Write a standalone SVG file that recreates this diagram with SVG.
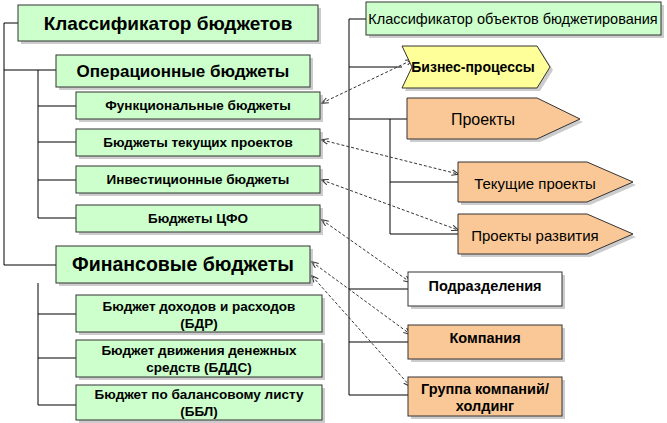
<svg xmlns="http://www.w3.org/2000/svg" width="667" height="423" viewBox="0 0 667 423">
<style>
.g{fill:#ccffcc;stroke:#333;stroke-width:1}
.o{fill:#fac896;stroke:#333;stroke-width:1}
.y{fill:#ffff99;stroke:#333;stroke-width:1}
.w{fill:#fff;stroke:#333;stroke-width:1}
.sh{fill:#999;opacity:.5}
.t{font-family:"Liberation Sans",Arial,sans-serif;text-anchor:middle;fill:#000}
.b{font-weight:bold}
.s{font-size:13.5px}
.r{font-size:14.5px}
.ln{stroke:#000;stroke-width:1;fill:none}
.da{stroke:#333;stroke-width:1;stroke-dasharray:3,2;fill:none;marker-start:url(#a);marker-end:url(#a)}
</style>
<defs><marker id="a" viewBox="0 0 10 10" refX="9" refY="5" markerWidth="7" markerHeight="7" orient="auto-start-reverse"><path d="M0,1 L10,5 L0,9" fill="none" stroke="#333" stroke-width="1.5"/></marker></defs>
<rect width="667" height="423" fill="#fff"/>
<g id="connectors">
<path class="ln" d="M4,23H18M4,23V265H56M4,70H56M38,70V218H76M38,106H76M38,142H76M38,180H76M38,283V405H76M38,314H76M38,358H76"/>
<path class="ln" d="M349,19H366M349,19V395H408M349,67H402M349,119H407M390,119V234H458M390,182H458M349,289H408M349,342H408"/>
<path class="da" d="M322,103L412,60"/>
<path class="da" d="M322,140L458,174"/>
<path class="da" d="M322,180L458,230"/>
<path class="da" d="M322,220L410,282"/>
<path class="da" d="M312,262L410,334"/>
<path class="da" d="M312,276L410,386"/>
</g>
<g id="n1"><rect class="sh" x="21" y="8" width="300" height="36"/><rect class="g" x="18" y="5" width="300" height="36"/><text class="t b" x="168" y="30" font-size="19">Классификатор бюджетов</text></g>
<g id="n2"><rect class="sh" x="59" y="58" width="254" height="32"/><rect class="g" x="56" y="55" width="254" height="32"/><text class="t b" x="183" y="77" font-size="17">Операционные бюджеты</text></g>
<g id="n3"><rect class="sh" x="79" y="95" width="244" height="27"/><rect class="g" x="76" y="92" width="244" height="27"/><text class="t b s" x="198" y="110">Функциональные бюджеты</text></g>
<g id="n4"><rect class="sh" x="79" y="132" width="244" height="27"/><rect class="g" x="76" y="129" width="244" height="27"/><text class="t b s" x="198" y="147">Бюджеты текущих проектов</text></g>
<g id="n5"><rect class="sh" x="79" y="169" width="244" height="27"/><rect class="g" x="76" y="166" width="244" height="27"/><text class="t b s" x="198" y="184">Инвестиционные бюджеты</text></g>
<g id="n6"><rect class="sh" x="79" y="208" width="244" height="27"/><rect class="g" x="76" y="205" width="244" height="27"/><text class="t b s" x="198" y="223">Бюджеты ЦФО</text></g>
<g id="n7"><rect class="sh" x="59" y="249" width="254" height="37"/><rect class="g" x="56" y="246" width="254" height="37"/><text class="t b" x="183" y="271" font-size="19.5">Финансовые бюджеты</text></g>
<g id="n8"><rect class="sh" x="79" y="298" width="246" height="37"/><rect class="g" x="76" y="295" width="246" height="37"/><text class="t b s" x="199" y="311">Бюджет доходов и расходов</text><text class="t b s" x="199" y="328">(БДР)</text></g>
<g id="n9"><rect class="sh" x="79" y="343" width="246" height="37"/><rect class="g" x="76" y="340" width="246" height="37"/><text class="t b s" x="199" y="355">Бюджет движения денежных</text><text class="t b s" x="199" y="372">средств (БДДС)</text></g>
<g id="n10"><rect class="sh" x="79" y="388" width="246" height="35"/><rect class="g" x="76" y="385" width="246" height="35"/><text class="t b s" x="199" y="399">Бюджет по балансовому листу</text><text class="t b s" x="199" y="416">(ББЛ)</text></g>
<g id="r1"><rect class="sh" x="369" y="5" width="295" height="33"/><rect class="g" x="366" y="2" width="295" height="33"/><text class="t" x="513" y="24" font-size="14.5">Классификатор объектов бюджетирования</text></g>
<g id="r2"><path class="sh" d="M405,49H540L553,70L540,91H405L415,70Z"/><path class="y" d="M402,46H537L550,67L537,88H402L412,67Z"/><text class="t b" x="473" y="72" font-size="14">Бизнес-процессы</text></g>
<g id="r3"><path class="sh" d="M410,101H540L583,122L540,142H410Z"/><path class="o" d="M407,98H537L580,119L537,139H407Z"/><text class="t" x="483" y="125" font-size="16">Проекты</text></g>
<g id="r4"><path class="sh" d="M461,165H590L636,185L590,205H461Z"/><path class="o" d="M458,162H587L633,182L587,202H458Z"/><text class="t" x="535" y="189" font-size="15">Текущие проекты</text></g>
<g id="r5"><path class="sh" d="M461,217H590L636,237L590,257H461Z"/><path class="o" d="M458,214H587L633,234L587,254H458Z"/><text class="t" x="535" y="241" font-size="15">Проекты развития</text></g>
<g id="r6"><rect class="sh" x="411" y="275" width="154" height="34"/><rect class="w" x="408" y="272" width="154" height="34"/><text class="t b r" x="485" y="291">Подразделения</text></g>
<g id="r7"><rect class="sh" x="411" y="328" width="154" height="34"/><rect class="o" x="408" y="325" width="154" height="34"/><text class="t b r" x="485" y="343">Компания</text></g>
<g id="r8"><rect class="sh" x="411" y="380" width="154" height="39"/><rect class="o" x="408" y="377" width="154" height="39"/><text class="t b r" x="485" y="394">Группа компаний/</text><text class="t b r" x="485" y="411">холдинг</text></g>
</svg>
